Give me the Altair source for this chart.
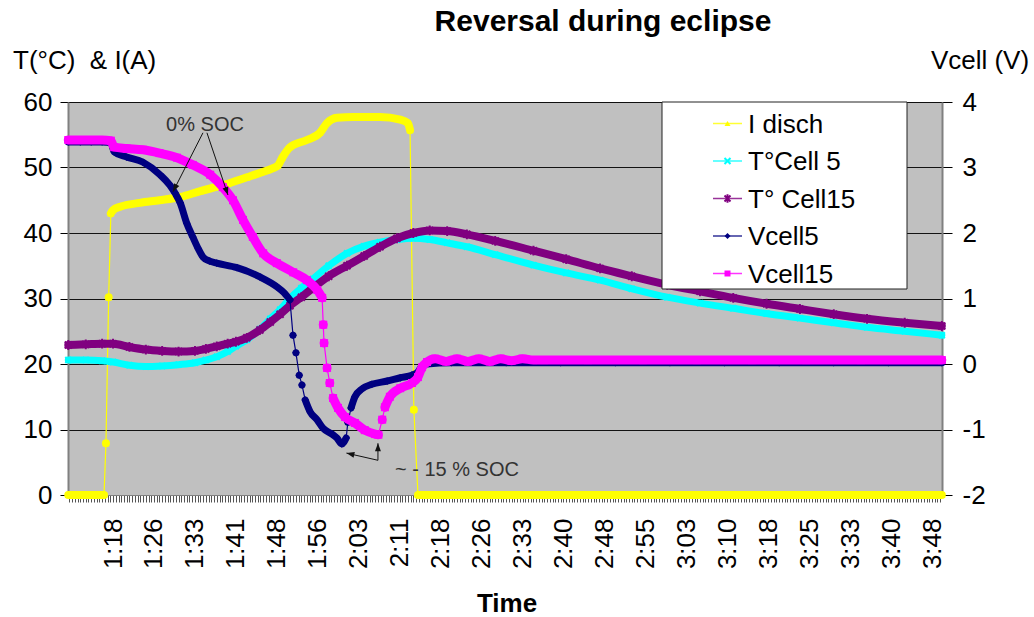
import json
import altair as alt
import pandas as pd

# ---------------- measured series (time = minutes after 0:00) ----------------
# Discharge current, A
I_DISCH_MIN = [69.8, 72.0, 74.0, 76.0, 76.35, 76.7, 77.2, 77.6, 78.0, 79.3, 82.9, 86.5,
               90.3, 94.0, 98.1, 102.5, 105.0, 107.3, 108.2, 109.0, 110.4, 113.5, 115.9, 117.2,
               119.0, 122.0, 126.9, 130.6, 132.0, 132.4, 133.1, 133.85, 137.0, 142.0, 148.0, 155.0,
               162.0, 170.0, 178.0, 186.0, 194.0, 202.0, 210.0, 218.0, 224.0, 229.8]
I_DISCH_A = [0, 0, 0, 0, 0, 7.9, 30.2, 43.0, 43.5, 44.0, 44.6, 45.0,
             45.5, 46.4, 47.3, 48.5, 49.2, 49.9, 50.3, 51.5, 53.1, 54.2, 55.3, 56.8,
             57.6, 57.7, 57.7, 57.3, 56.8, 55.7, 13.0, 0, 0, 0, 0, 0,
             0, 0, 0, 0, 0, 0, 0, 0, 0, 0]

# Cell temperatures, °C
TEMP_MIN = [69.8, 73.0, 76.0, 78.0, 81.0, 84.0, 87.0, 90.0, 93.0, 95.0, 97.0, 99.0,
            100.5, 102.5, 104.9, 106.8, 108.6, 110.4, 112.5, 114.6, 117.5, 120.85, 124.0, 126.9,
            130.0, 133.0, 136.0, 139.2, 142.8, 148.0, 155.0, 161.0, 167.2, 173.0, 179.5, 185.5,
            191.6, 197.7, 203.8, 210.0, 216.1, 223.0, 229.8]
T_CELL5_C = [20.6, 20.6, 20.5, 20.3, 19.8, 19.6, 19.7, 19.9, 20.2, 20.6, 21.1, 21.9,
             22.7, 23.7, 25.3, 26.9, 28.3, 30.0, 31.6, 33.0, 35.0, 36.9, 38.0, 38.6,
             39.0, 39.2, 39.0, 38.5, 37.9, 36.7, 35.1, 33.9, 32.8, 31.5, 30.2, 29.3,
             28.5, 27.7, 27.0, 26.3, 25.6, 25.0, 24.4]
T_CELL15_C = [22.9, 23.0, 23.1, 23.1, 22.6, 22.2, 22.0, 21.9, 22.0, 22.3, 22.7, 23.1,
              23.4, 24.0, 25.2, 26.4, 27.6, 28.9, 30.2, 31.6, 33.4, 35.0, 36.5, 37.9,
              39.2, 40.0, 40.4, 40.3, 39.8, 38.8, 37.3, 36.0, 34.6, 33.4, 32.1, 31.1,
              30.1, 29.2, 28.4, 27.6, 26.9, 26.3, 25.8]

# Cell voltages, V
VCELL5_MIN = [69.8, 72.0, 74.0, 76.0, 77.6, 78.2, 80.5, 83.5, 86.6, 88.4, 89.35, 90.3,
              91.5, 92.6, 93.6, 94.5, 95.7, 97.0, 100.7, 104.9, 108.0, 109.3, 110.4, 110.96,
              111.5, 112.1, 112.6, 113.2, 114.1, 115.35, 116.45, 118.1, 119.0, 119.9, 120.7, 121.0,
              121.6, 122.3, 123.6, 125.4, 128.2, 130.6, 132.75, 133.85, 134.6, 135.5, 140.0, 150.0,
              160.0, 170.0, 180.0, 190.0, 200.0, 210.0, 220.0, 229.8]
VCELL5_V = [3.39, 3.39, 3.39, 3.39, 3.38, 3.24, 3.16, 3.08, 2.89, 2.73, 2.61, 2.46,
            2.15, 1.94, 1.76, 1.63, 1.57, 1.54, 1.47, 1.33, 1.18, 1.09, 0.98, 0.44,
            0.17, -0.17, -0.32, -0.55, -0.73, -0.85, -0.98, -1.07, -1.13, -1.22, -1.13, -0.89,
            -0.67, -0.50, -0.38, -0.31, -0.26, -0.21, -0.17, -0.12, -0.03, 0.0, 0.02, 0.02,
            0.02, 0.02, 0.02, 0.02, 0.02, 0.02, 0.02, 0.02]
VCELL15_MIN = [69.8, 72.0, 74.0, 76.0, 77.6, 78.2, 80.5, 83.5, 86.5, 89.7, 92.6, 95.8,
               98.1, 99.97, 101.8, 103.6, 105.5, 108.0, 111.0, 113.5, 115.4, 116.3, 116.5, 116.65,
               117.2, 117.7, 118.3, 119.2, 120.5, 122.3, 124.1, 126.0, 126.6, 127.3, 127.8, 128.7,
               130.6, 132.75, 133.85, 134.6, 135.5, 137.0, 139.0, 141.0, 143.0, 145.0, 147.0, 149.0,
               151.0, 153.0, 155.0, 157.0, 165.0, 175.0, 185.0, 195.0, 205.0, 215.0, 229.8]
VCELL15_V = [3.42, 3.42, 3.42, 3.42, 3.41, 3.31, 3.29, 3.27, 3.22, 3.15, 3.04, 2.89,
             2.70, 2.50, 2.20, 1.94, 1.69, 1.54, 1.40, 1.28, 1.13, 1.01, 0.60, 0.32,
             -0.06, -0.29, -0.52, -0.67, -0.81, -0.90, -1.01, -1.07, -1.08, -0.85, -0.66, -0.50,
             -0.37, -0.29, -0.20, -0.05, 0.03, 0.08, 0.04, 0.08, 0.04, 0.08, 0.04, 0.08,
             0.05, 0.08, 0.06, 0.06, 0.06, 0.06, 0.06, 0.06, 0.06, 0.06, 0.06]

SERIES_NAMES = ["I disch", "T°Cell 5", "T° Cell15", "Vcell5", "Vcell15"]
SERIES_COLORS = ["#FFFF00", "#00FFFF", "#800080", "#000080", "#FF00FF"]

TIME_LABELS = ["1:18", "1:26", "1:33", "1:41", "1:48", "1:56", "2:03", "2:11", "2:18", "2:26",
               "2:33", "2:40", "2:48", "2:55", "3:03", "3:10", "3:18", "3:25", "3:33", "3:40", "3:48"]
FIRST_LABEL_MIN = 78.0
LABEL_STEP_MIN = 7.5

# State-of-charge call-outs (time, voltage)
SOC0_FROM_MIN = [94.47, 95.2]
SOC0_FROM_V = [3.53, 3.53]
SOC0_TO_MIN = [88.98, 99.05]
SOC0_TO_V = [2.63, 2.58]
SOC15_FROM_MIN = [126.52, 126.52]
SOC15_FROM_V = [-1.47, -1.47]
SOC15_TO_MIN = [120.75, 126.52]
SOC15_TO_V = [-1.36, -1.21]

# ---------------- geometry ----------------
W, H = 874, 393
X_DOMAIN = [69.75, 229.83]
T_DOMAIN = [0, 60]
V_DOMAIN = [-2, 4]
PX_PER_MIN = W / (X_DOMAIN[1] - X_DOMAIN[0])
PX_PER_C = H / (T_DOMAIN[1] - T_DOMAIN[0])
PX_PER_V = H / (V_DOMAIN[1] - V_DOMAIN[0])
STEEP = 3.5  # pixel slope above which the marker band opens up into a thin line

FONT = "Liberation Sans"

x_scale = alt.Scale(domain=X_DOMAIN, nice=False, zero=False)
tick_minutes = [70 + 0.5 * k for k in range(320)]
label_expr = (
    f"(datum.value >= {FIRST_LABEL_MIN} && (datum.value - {FIRST_LABEL_MIN}) % {LABEL_STEP_MIN} == 0)"
    f" ? {json.dumps(TIME_LABELS)}[round((datum.value - {FIRST_LABEL_MIN}) / {LABEL_STEP_MIN})] : ''"
)
x_axis = alt.Axis(values=tick_minutes, labelExpr=label_expr, labelAngle=270, labelAlign="right",
                  labelBaseline="middle", labelFontSize=26, labelColor="#000", labelPadding=16,
                  labelOverlap=False, labelFlush=False, labelBound=False,
                  tickSize=7, tickColor="#555", tickWidth=1,
                  domainColor="#808080", domainWidth=1, grid=False, title=None)

t_scale = alt.Scale(domain=T_DOMAIN, nice=False, zero=False)
t_axis = alt.Axis(values=list(range(0, 61, 10)), labelFontSize=26, labelColor="#000", labelPadding=8,
                  tickSize=8, tickColor="#000", domainColor="#808080", domainWidth=2,
                  grid=True, gridColor="#000", gridWidth=1, gridOpacity=0.9, title=None)
v_scale = alt.Scale(domain=V_DOMAIN, nice=False, zero=False)
v_axis = alt.Axis(orient="right", values=[-2, -1, 0, 1, 2, 3, 4], labelExpr="'' + datum.value",
                  labelFontSize=26, labelColor="#000", labelPadding=10, labelAlign="left",
                  tickSize=10, tickColor="#000", domainColor="#808080", domainWidth=2,
                  grid=False, title=None)

SHAPE_X = "M-1,-1L1,1M-1,1L1,-1"
SHAPE_STAR = "M-1,-1L1,1M-1,1L1,-1M0,-1.4L0,1.4"
ARROW_HEAD = "M0,0L-0.9,2.4L0.9,2.4Z"


def series_layers(minutes, values, y_scale, y_axis, px_per_unit, color, shape, size, band,
                  filled=True, stroke_w=1.0):
    df = pd.DataFrame({"t": minutes, "v": values})
    base = alt.Chart(df).encode(
        x=alt.X("t:Q", scale=x_scale, axis=x_axis),
        y=alt.Y("v:Q", scale=y_scale, axis=y_axis),
    )
    thin = base.mark_line(color=color, strokeWidth=1.2)
    band_line = (
        base.transform_window(
            window=[alt.WindowFieldDef(op="lead", field="t", **{"as": "nt"}),
                    alt.WindowFieldDef(op="lead", field="v", **{"as": "nv"})],
            sort=[alt.SortField("t")],
        )
        .transform_calculate(
            steep=f"isValid(datum.nv) && abs(datum.nv - datum.v) * {px_per_unit} > "
                  f"{STEEP} * abs(datum.nt - datum.t) * {PX_PER_MIN} ? 1 : 0"
        )
        .transform_window(
            window=[alt.WindowFieldDef(op="sum", field="steep", **{"as": "cs"})],
            sort=[alt.SortField("t")],
        )
        .transform_calculate(seg="datum.cs - datum.steep")
        .mark_line(color=color, strokeWidth=band, strokeCap="round", strokeJoin="round",
                   interpolate="monotone")
        .encode(detail="seg:N")
    )
    markers = base.mark_point(shape=shape, size=size, filled=filled, color=color, opacity=1,
                              strokeWidth=stroke_w)
    return [thin, band_line, markers]


left_group = alt.layer(
    *series_layers(I_DISCH_MIN, I_DISCH_A, t_scale, t_axis, PX_PER_C, SERIES_COLORS[0],
                   "triangle-up", 50, 8),
    *series_layers(TEMP_MIN, T_CELL5_C, t_scale, t_axis, PX_PER_C, SERIES_COLORS[1],
                   SHAPE_X, 36, 7, filled=False, stroke_w=2),
    *series_layers(TEMP_MIN, T_CELL15_C, t_scale, t_axis, PX_PER_C, SERIES_COLORS[2],
                   SHAPE_STAR, 49, 8, filled=False, stroke_w=2),
)

# call-out arrows, drawn in the voltage frame
arrows = pd.DataFrame({
    "t": SOC0_FROM_MIN + SOC15_FROM_MIN,
    "v": SOC0_FROM_V + SOC15_FROM_V,
    "t2": SOC0_TO_MIN + SOC15_TO_MIN,
    "v2": SOC0_TO_V + SOC15_TO_V,
})
arrow_lines = alt.Chart(arrows).mark_rule(color="#111", strokeWidth=1).encode(
    x=alt.X("t:Q", scale=x_scale, axis=x_axis),
    y=alt.Y("v:Q", scale=v_scale, axis=v_axis),
    x2="t2:Q",
    y2="v2:Q",
)
arrow_heads = (
    alt.Chart(arrows)
    .transform_calculate(
        ang=f"(atan2((datum.t2 - datum.t) * {PX_PER_MIN}, (datum.v2 - datum.v) * {PX_PER_V})"
            f" * 180 / PI + 360) % 360"
    )
    .mark_point(shape=ARROW_HEAD, size=44, filled=True, color="#111", opacity=1)
    .encode(
        x=alt.X("t2:Q", scale=x_scale, axis=x_axis),
        y=alt.Y("v2:Q", scale=v_scale, axis=v_axis),
        angle=alt.Angle("ang:Q", scale=None),
    )
)
soc_labels = pd.DataFrame({"t": [94.84, 129.64], "v": [3.65, -1.62],
                           "label": ["0% SOC", "~ - 15 % SOC"]})
soc0_text = alt.Chart(soc_labels.iloc[[0]]).mark_text(
    fontSize=20, color="#333", align="center", baseline="middle"
).encode(x=alt.X("t:Q", scale=x_scale, axis=x_axis), y=alt.Y("v:Q", scale=v_scale, axis=v_axis),
         text="label:N")
soc15_text = alt.Chart(soc_labels.iloc[[1]]).mark_text(
    fontSize=20, color="#333", align="left", baseline="middle"
).encode(x=alt.X("t:Q", scale=x_scale, axis=x_axis), y=alt.Y("v:Q", scale=v_scale, axis=v_axis),
         text="label:N")

right_group = alt.layer(
    *series_layers(VCELL5_MIN, VCELL5_V, v_scale, v_axis, PX_PER_V, SERIES_COLORS[3],
                   "diamond", 60, 7),
    *series_layers(VCELL15_MIN, VCELL15_V, v_scale, v_axis, PX_PER_V, SERIES_COLORS[4],
                   "square", 64, 9),
    arrow_lines, arrow_heads, soc0_text, soc15_text,
)

# ---------------- legend box, titles ----------------
one = alt.Data(values=[{}])
deco = [
    alt.Chart(one).mark_rect(fill="white", stroke="#222", strokeWidth=1).encode(
        x=alt.value(594), x2=alt.value(839), y=alt.value(0), y2=alt.value(187)),
]
legend_shapes = ["triangle-up", SHAPE_X, SHAPE_STAR, "diamond", "square"]
legend_filled = [True, False, False, True, True]
for i, (name, color, shape, filled) in enumerate(zip(SERIES_NAMES, SERIES_COLORS, legend_shapes,
                                                     legend_filled)):
    ry = 21.5 + 37.5 * i
    deco.append(alt.Chart(one).mark_rule(color=color, strokeWidth=1.5, opacity=0.8).encode(
        x=alt.value(645), x2=alt.value(674), y=alt.value(ry), y2=alt.value(ry)))
    deco.append(alt.Chart(one).mark_point(shape=shape, size=36, filled=filled, color=color,
                                          opacity=1, strokeWidth=2).encode(
        x=alt.value(659.5), y=alt.value(ry)))
    deco.append(alt.Chart(one).mark_text(text=name, fontSize=26, color="#000", align="left",
                                         baseline="middle").encode(
        x=alt.value(680), y=alt.value(ry + 1)))

deco += [
    alt.Chart(one).mark_text(text="Reversal during eclipse", fontSize=30, fontWeight="bold",
                             color="#000", align="center", baseline="middle").encode(
        x=alt.value(535), y=alt.value(-80)),
    alt.Chart(one).mark_text(text="T(°C)\u00a0\u00a0& I(A)", fontSize=26, color="#000",
                             align="left", baseline="middle").encode(
        x=alt.value(-55), y=alt.value(-41)),
    alt.Chart(one).mark_text(text="Vcell (V)", fontSize=26, color="#000", align="center",
                             baseline="middle").encode(x=alt.value(912), y=alt.value(-41)),
    alt.Chart(one).mark_text(text="Time", fontSize=26, fontWeight="bold", color="#000",
                             align="center", baseline="middle").encode(
        x=alt.value(439), y=alt.value(502)),
]

chart = (
    alt.layer(left_group, right_group, *deco)
    .resolve_scale(y="independent")
    .properties(width=W, height=H, autosize=alt.AutoSizeParams(type="none"),
                padding={"left": 68, "top": 102, "right": 92, "bottom": 122})
    .configure(font=FONT)
    .configure_view(fill="#C0C0C0", stroke="#9a9a9a", strokeWidth=1)
)

chart.save("out.html", embed_options={"renderer": "svg", "actions": False})
